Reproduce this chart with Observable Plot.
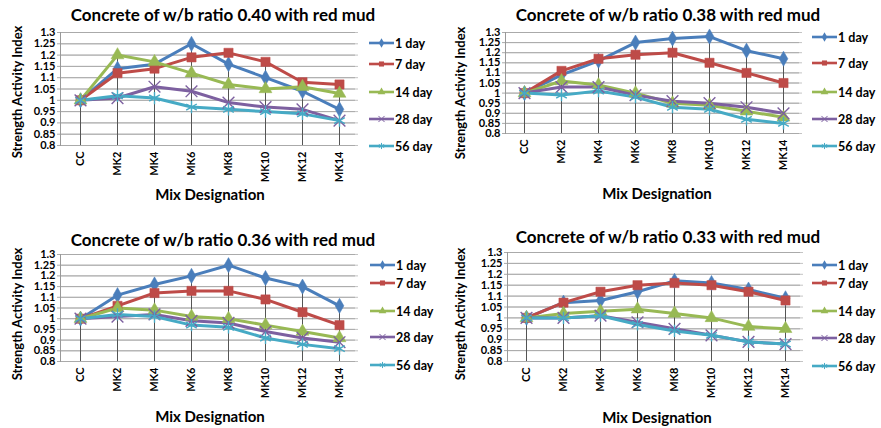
<!DOCTYPE html>
<html><head><meta charset="utf-8">
<script src="https://cdn.jsdelivr.net/npm/d3@7"></script>
<script src="https://cdn.jsdelivr.net/npm/@observablehq/plot@0.6"></script>
<style>
body{margin:0;background:#fff;}
#root{position:relative;width:881px;height:428px;overflow:hidden;font-family:Lato,sans-serif;}
.panel{position:absolute;width:440px;height:214px;}
.panel svg{position:absolute;left:0;top:0;}
</style></head>
<body><div id="root"></div>
<script>
const categories = ["CC","MK2","MK4","MK6","MK8","MK10","MK12","MK14"];
const seriesNames = ["1 day","7 day","14 day","28 day","56 day"];
const colors = ["#4A7EBB","#BE4B48","#98B954","#7D60A0","#46AAC5"];
const symbols = ["diamond","square","triangle","times","asterisk"];
const yTicks = [0.8,0.85,0.9,0.95,1,1.05,1.1,1.15,1.2,1.25,1.3];
const titles = [
  "Concrete of w/b ratio 0.40 with red mud",
  "Concrete of w/b ratio 0.38 with red mud",
  "Concrete of w/b ratio 0.36 with red mud",
  "Concrete of w/b ratio 0.33 with red mud"
];
const yLabel = "Strength Activity Index";
const xLabel = "Mix Designation";

// rows = series (1, 7, 14, 28, 56 day), columns = categories
const wb040 = [
  [1.00,1.14,1.16,1.25,1.16,1.10,1.04,0.96],
  [1.00,1.12,1.14,1.19,1.21,1.17,1.08,1.07],
  [1.00,1.20,1.17,1.12,1.07,1.05,1.06,1.03],
  [1.00,1.01,1.06,1.04,0.99,0.97,0.96,0.91],
  [1.00,1.02,1.01,0.97,0.96,0.95,0.94,0.91]
];
const wb038 = [
  [1.00,1.09,1.16,1.25,1.27,1.28,1.21,1.17],
  [1.00,1.11,1.17,1.19,1.20,1.15,1.10,1.05],
  [1.00,1.06,1.04,1.00,0.95,0.94,0.91,0.88],
  [1.00,1.03,1.03,0.99,0.96,0.95,0.93,0.90],
  [1.00,0.99,1.01,0.98,0.93,0.92,0.87,0.85]
];
const wb036 = [
  [1.00,1.11,1.16,1.20,1.25,1.19,1.15,1.06],
  [1.00,1.06,1.12,1.13,1.13,1.09,1.03,0.97],
  [1.00,1.05,1.04,1.01,1.00,0.97,0.94,0.91],
  [1.00,1.01,1.02,0.99,0.98,0.94,0.91,0.89],
  [1.00,1.02,1.01,0.97,0.96,0.91,0.88,0.86]
];
const wb033 = [
  [1.00,1.07,1.08,1.12,1.17,1.16,1.13,1.09],
  [1.00,1.07,1.12,1.15,1.16,1.15,1.12,1.08],
  [1.00,1.02,1.03,1.04,1.02,1.00,0.96,0.95],
  [1.00,1.00,1.01,0.98,0.95,0.92,0.89,0.88],
  [1.00,1.00,1.01,0.97,0.94,0.92,0.89,0.88]
];

const panels = [
  {data:wb040, left:0,   top:0,   ml:60, mr:82, mt:32, mb:69, tx:223, ty:14, ylx:17, yly:92,  xlx:210, xly:194, lgx:369, lgy:[43,64,92,119,146]},
  {data:wb038, left:440, top:0,   ml:65, mr:78, mt:32, mb:81, tx:228, ty:14, ylx:20, yly:93,  xlx:217, xly:193, lgx:372, lgy:[37,63,92,119,146]},
  {data:wb036, left:0,   top:214, ml:60, mr:82, mt:40, mb:67, tx:223, ty:25, ylx:17, yly:100, xlx:210, xly:202, lgx:370, lgy:[51,69,97,123,151]},
  {data:wb033, left:440, top:214, ml:67, mr:77, mt:38, mb:67, tx:228, ty:22, ylx:20, yly:100, xlx:217, xly:203, lgx:372, lgy:[51,69,97,124,152]}
];

const root = document.getElementById("root");
const filled = new Set(["diamond","square","triangle"]);
const symSize = {"diamond":4.6,"square":5.2,"triangle":4.8,"times":5.4,"asterisk":5.8};

panels.forEach((cfg, pi) => {
  const rows = [];
  seriesNames.forEach((s, si) => categories.forEach((c, ci) => rows.push({series:s, sym:symbols[si], cat:c, v:cfg.data[si][ci]})));
  const maxes = categories.map((c, ci) => ({cat:c, v:d3.max(cfg.data, a => a[ci])}));
  const div = document.createElement("div");
  div.className = "panel";
  div.style.left = cfg.left + "px";
  div.style.top = cfg.top + "px";
  const dotMarks = symbols.map((sym, si) => {
    const sub = rows.filter(r => r.sym === sym);
    return filled.has(sym)
      ? Plot.dot(sub, {x:"cat", y:"v", symbol:() => sym, fill:colors[si], stroke:colors[si], strokeWidth:0.5, r:symSize[sym]})
      : Plot.dot(sub, {x:"cat", y:"v", symbol:() => sym, stroke:colors[si], fill:"none", strokeWidth:1.4, r:symSize[sym]});
  });
  const chart = Plot.plot({
    width:440, height:214,
    marginLeft:cfg.ml, marginRight:cfg.mr, marginTop:cfg.mt, marginBottom:cfg.mb,
    style:{fontFamily:"Lato, sans-serif", fontWeight:"bold", fontSize:"11px", color:"#000", background:"transparent", overflow:"visible"},
    x:{type:"point", domain:categories, padding:0.5, label:null, tickRotate:-90, tickSize:0, tickPadding:6},
    y:{domain:[0.8,1.3], ticks:yTicks, tickFormat:d => String(+d.toFixed(2)), label:null, tickSize:0, tickPadding:5},
    symbol:{domain:symbols, range:symbols},
    marks:[
      Plot.gridY(yTicks, {stroke:"#c4c4c4", strokeOpacity:1, strokeWidth:1}),
      Plot.tickY(yTicks, {y:d => d, frameAnchor:"left", dx:-3, stroke:"#aaa"}),
      Plot.frame({anchor:"left", stroke:"#999"}),
      Plot.ruleX(maxes, {x:"cat", y1:0.8, y2:"v", stroke:"#555", strokeWidth:1}),
      ...seriesNames.map((s, si) => Plot.line(rows.filter(r => r.series === s), {x:"cat", y:"v", stroke:colors[si], strokeWidth:3})),
      ...dotMarks
    ]
  });
  div.appendChild(chart);

  const ov = d3.create("svg").attr("width", 440).attr("height", 214)
    .style("position","absolute").style("left","0").style("top","0")
    .style("font-family","Lato, sans-serif").style("font-weight","bold");
  ov.append("text").attr("x", cfg.tx).attr("y", cfg.ty).attr("text-anchor","middle").attr("dominant-baseline","central")
    .attr("font-size", 17).text(titles[pi]);
  ov.append("text").attr("transform", `translate(${cfg.ylx},${cfg.yly}) rotate(-90)`).attr("text-anchor","middle")
    .attr("dominant-baseline","central").attr("font-size", 13).text(yLabel);
  ov.append("text").attr("x", cfg.xlx).attr("y", cfg.xly).attr("text-anchor","middle").attr("dominant-baseline","central")
    .attr("font-size", 15).text(xLabel);
  seriesNames.forEach((s, si) => {
    const g = ov.append("g").attr("transform", `translate(${cfg.lgx},${cfg.lgy[si]})`);
    g.append("line").attr("x1", 0).attr("x2", 25).attr("stroke", colors[si]).attr("stroke-width", 2.6);
    const sym = {diamond:d3.symbolDiamond, square:d3.symbolSquare, triangle:d3.symbolTriangle, times:d3.symbolTimes, asterisk:d3.symbolAsterisk}[symbols[si]];
    const p = g.append("path").attr("transform","translate(12.5,0)").attr("d", d3.symbol(sym, 26)());
    if (filled.has(symbols[si])) p.attr("fill", colors[si]); else p.attr("fill","none").attr("stroke", colors[si]).attr("stroke-width", 1);
    g.append("text").attr("x", 26).attr("dominant-baseline","central").attr("font-size", 12.5).text(s);
  });
  div.appendChild(ov.node());
  root.appendChild(div);
});
</script></body></html>
